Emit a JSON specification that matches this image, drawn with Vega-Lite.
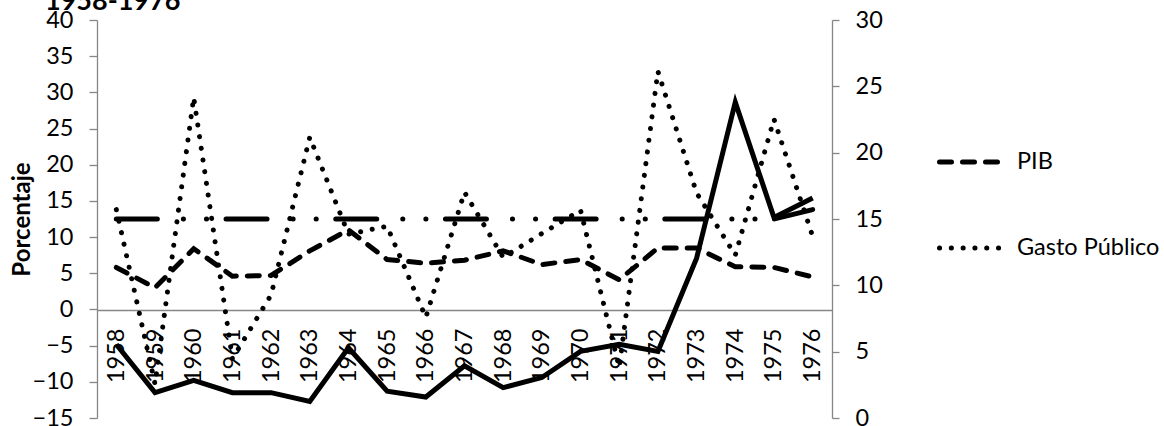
{
  "$schema": "https://vega.github.io/schema/vega-lite/v6.json",
  "width": 735,
  "height": 398,
  "autosize": {"type": "none"},
  "padding": {"left": 97, "top": 20, "right": 332, "bottom": 8},
  "background": "white",
  "config": {
    "font": "Lato",
    "view": {"stroke": null},
    "axis": {
      "labelFont": "Lato",
      "labelColor": "#000000",
      "labelFontSize": 23.5,
      "domainColor": "#868686",
      "tickColor": "#868686",
      "domainWidth": 1.3,
      "tickWidth": 1.3,
      "grid": false
    }
  },
  "title": {
    "text": "1958-1976",
    "anchor": "start",
    "frame": "group",
    "fontSize": 27,
    "fontWeight": "bold",
    "color": "#000000",
    "font": "Lato",
    "dx": -52,
    "dy": 8,
    "offset": 0
  },
  "datasets": {
    "izq": [
      {"year": 1958, "series": "PIB", "value": 5.8},
      {"year": 1959, "series": "PIB", "value": 3.0},
      {"year": 1960, "series": "PIB", "value": 8.4},
      {"year": 1961, "series": "PIB", "value": 4.6},
      {"year": 1962, "series": "PIB", "value": 4.7},
      {"year": 1963, "series": "PIB", "value": 8.1},
      {"year": 1964, "series": "PIB", "value": 11.0},
      {"year": 1965, "series": "PIB", "value": 6.9},
      {"year": 1966, "series": "PIB", "value": 6.4},
      {"year": 1967, "series": "PIB", "value": 6.8},
      {"year": 1968, "series": "PIB", "value": 8.1},
      {"year": 1969, "series": "PIB", "value": 6.2},
      {"year": 1970, "series": "PIB", "value": 6.9},
      {"year": 1971, "series": "PIB", "value": 4.1},
      {"year": 1972, "series": "PIB", "value": 8.5},
      {"year": 1973, "series": "PIB", "value": 8.5},
      {"year": 1974, "series": "PIB", "value": 5.9},
      {"year": 1975, "series": "PIB", "value": 5.8},
      {"year": 1976, "series": "PIB", "value": 4.5},
      {"year": 1958, "series": "Gasto Público", "value": 13.8},
      {"year": 1959, "series": "Gasto Público", "value": -10.3},
      {"year": 1960, "series": "Gasto Público", "value": 29.3},
      {"year": 1961, "series": "Gasto Público", "value": -6.8},
      {"year": 1962, "series": "Gasto Público", "value": 2.0},
      {"year": 1963, "series": "Gasto Público", "value": 23.8},
      {"year": 1964, "series": "Gasto Público", "value": 10.4},
      {"year": 1965, "series": "Gasto Público", "value": 11.5},
      {"year": 1966, "series": "Gasto Público", "value": -1.1},
      {"year": 1967, "series": "Gasto Público", "value": 16.2},
      {"year": 1968, "series": "Gasto Público", "value": 7.2},
      {"year": 1969, "series": "Gasto Público", "value": 10.5},
      {"year": 1970, "series": "Gasto Público", "value": 13.7},
      {"year": 1971, "series": "Gasto Público", "value": -8.0},
      {"year": 1972, "series": "Gasto Público", "value": 32.9},
      {"year": 1973, "series": "Gasto Público", "value": 16.1},
      {"year": 1974, "series": "Gasto Público", "value": 7.5},
      {"year": 1975, "series": "Gasto Público", "value": 26.3},
      {"year": 1976, "series": "Gasto Público", "value": 10.1}
    ],
    "der": [
      {"year": 1958, "series": "Serie3", "value": 5.54},
      {"year": 1959, "series": "Serie3", "value": 1.91},
      {"year": 1960, "series": "Serie3", "value": 2.84},
      {"year": 1961, "series": "Serie3", "value": 1.91},
      {"year": 1962, "series": "Serie3", "value": 1.91},
      {"year": 1963, "series": "Serie3", "value": 1.25},
      {"year": 1964, "series": "Serie3", "value": 5.29},
      {"year": 1965, "series": "Serie3", "value": 2.02},
      {"year": 1966, "series": "Serie3", "value": 1.58},
      {"year": 1967, "series": "Serie3", "value": 3.93},
      {"year": 1968, "series": "Serie3", "value": 2.29},
      {"year": 1969, "series": "Serie3", "value": 3.05},
      {"year": 1970, "series": "Serie3", "value": 5.02},
      {"year": 1971, "series": "Serie3", "value": 5.56},
      {"year": 1972, "series": "Serie3", "value": 5.02},
      {"year": 1973, "series": "Serie3", "value": 12.05},
      {"year": 1974, "series": "Serie3", "value": 23.81},
      {"year": 1975, "series": "Serie3", "value": 15.11},
      {"year": 1976, "series": "Serie3", "value": 16.58},
      {"year": 1958, "series": "Serie4", "value": 15},
      {"year": 1959, "series": "Serie4", "value": 15},
      {"year": 1960, "series": "Serie4", "value": 15},
      {"year": 1961, "series": "Serie4", "value": 15},
      {"year": 1962, "series": "Serie4", "value": 15},
      {"year": 1963, "series": "Serie4", "value": 15},
      {"year": 1964, "series": "Serie4", "value": 15},
      {"year": 1965, "series": "Serie4", "value": 15},
      {"year": 1966, "series": "Serie4", "value": 15},
      {"year": 1967, "series": "Serie4", "value": 15},
      {"year": 1968, "series": "Serie4", "value": 15},
      {"year": 1969, "series": "Serie4", "value": 15},
      {"year": 1970, "series": "Serie4", "value": 15},
      {"year": 1971, "series": "Serie4", "value": 15},
      {"year": 1972, "series": "Serie4", "value": 15},
      {"year": 1973, "series": "Serie4", "value": 15},
      {"year": 1974, "series": "Serie4", "value": 15},
      {"year": 1975, "series": "Serie4", "value": 15},
      {"year": 1976, "series": "Serie4", "value": 15.71}
    ]
  },
  "encoding": {
    "x": {
      "field": "year",
      "type": "ordinal",
      "scale": {"type": "point", "padding": 0.5},
      "axis": {
        "orient": "bottom",
        "offset": -108,
        "title": null,
        "ticks": false,
        "labelAngle": -90,
        "labelAlign": "right",
        "labelBaseline": "middle",
        "labelPadding": 18,
        "labelFontSize": 23.5
      }
    }
  },
  "layer": [
    {
      "data": {"name": "izq"},
      "mark": {"type": "line", "strokeWidth": 5, "strokeCap": "round", "color": "#000000"},
      "encoding": {
        "y": {
          "field": "value",
          "type": "quantitative",
          "scale": {"domain": [-15, 40], "nice": false, "zero": false},
          "axis": {
            "orient": "left",
            "values": [-15, -10, -5, 0, 5, 10, 15, 20, 25, 30, 35, 40],
            "tickSize": 8,
            "labelPadding": 16,
            "title": "Porcentaje",
            "titleFontSize": 24,
            "titleFontWeight": "bold",
            "titleColor": "#000000",
            "titleFont": "Lato",
            "titlePadding": -2
          }
        },
        "strokeDash": {
          "field": "series",
          "type": "nominal",
          "scale": {"domain": ["PIB", "Gasto Público"], "range": [[12, 11], [0.1, 11.7]]},
          "legend": {
            "orient": "none",
            "legendX": 840,
            "legendY": 108,
            "title": null,
            "symbolType": "stroke",
            "symbolSize": 3969,
            "symbolStrokeWidth": 5,
            "symbolStrokeColor": "#000000",
            "labelFontSize": 23.5,
            "labelColor": "#000000",
            "labelFont": "Lato",
            "labelOffset": 12,
            "rowPadding": 40,
            "encode": {"symbols": {"update": {"strokeCap": {"value": "round"}}}}
          }
        }
      }
    },
    {
      "data": {"name": "der"},
      "encoding": {
        "y": {
          "field": "value",
          "type": "quantitative",
          "scale": {"domain": [0, 30], "nice": false},
          "axis": {
            "orient": "right",
            "values": [0, 5, 10, 15, 20, 25, 30],
            "tickSize": 7,
            "labelPadding": 16,
            "title": null
          }
        }
      },
      "layer": [
        {
          "transform": [{"filter": "datum.series === 'Serie3'"}],
          "mark": {"type": "line", "strokeWidth": 5, "color": "#000000"}
        },
        {
          "transform": [{"filter": "datum.series === 'Serie4'"}],
          "mark": {"type": "line", "strokeWidth": 5, "color": "#000000", "strokeCap": "round", "strokeDash": [41, 26, 0.1, 23, 0.1, 19.5]}
        }
      ]
    }
  ],
  "resolve": {"scale": {"y": "independent"}}
}
